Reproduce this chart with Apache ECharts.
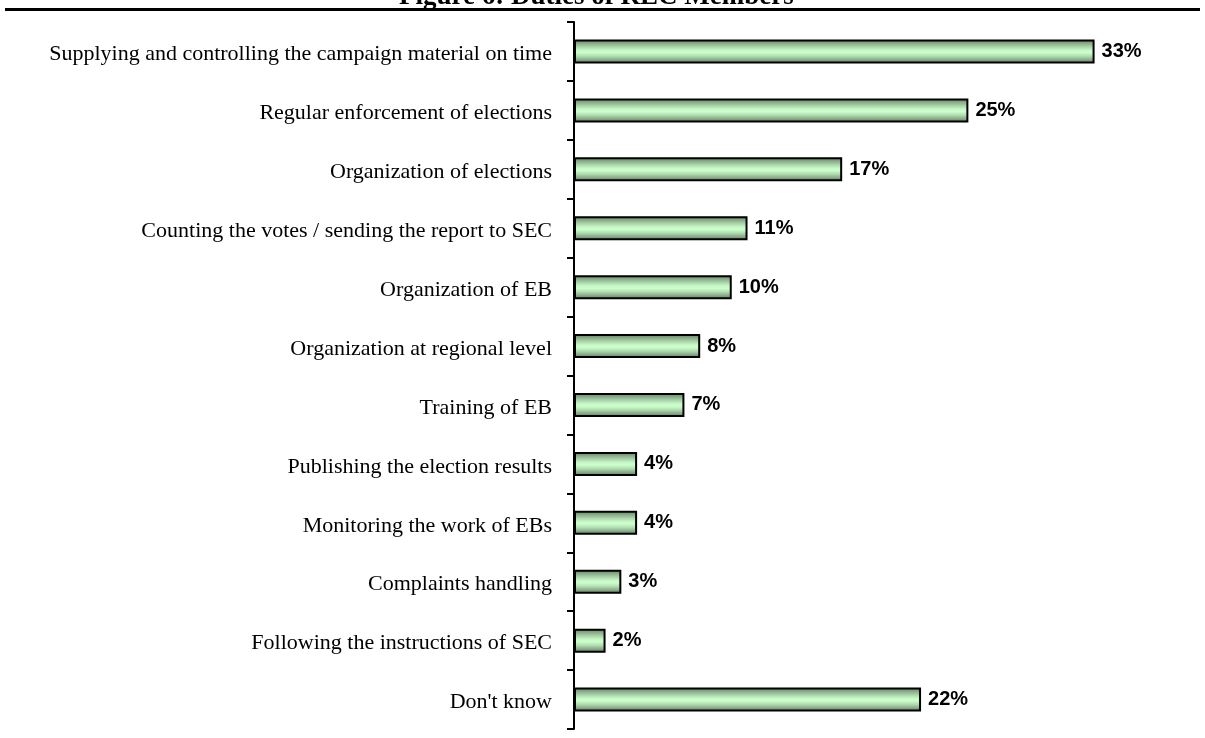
<!DOCTYPE html>
<html>
<head>
<meta charset="utf-8">
<script src="https://cdn.jsdelivr.net/npm/echarts@6/dist/echarts.min.js"></script>
<style>
  html, body { margin: 0; padding: 0; background: #fff; }
  #chart { width: 1205px; height: 738px; }
</style>
</head>
<body>
<div id="chart"></div>
<script>
// Duties named by REC members, share of respondents (%)
const categories = [
  'Supplying and controlling the campaign material on time',
  'Regular enforcement of elections',
  'Organization of elections',
  'Counting the votes / sending the report to SEC',
  'Organization of EB',
  'Organization at regional level',
  'Training of EB',
  'Publishing the election results',
  'Monitoring the work of EBs',
  'Complaints handling',
  'Following the instructions of SEC',
  "Don't know"
];
const shares = [33, 25, 17, 11, 10, 8, 7, 4, 4, 3, 2, 22];
const titleText = 'Figure 6: Duties of REC Members';

const chart = echarts.init(document.getElementById('chart'), null, { renderer: 'canvas' });

// Cylinder-like shading across the bar thickness
const barFill = new echarts.graphic.LinearGradient(0, 0, 0, 1, [
  { offset: 0.00, color: '#5f7d5f' },
  { offset: 0.15, color: '#86a886' },
  { offset: 0.30, color: '#a8d2a8' },
  { offset: 0.45, color: '#c8f8c8' },
  { offset: 0.55, color: '#ccffcc' },
  { offset: 0.70, color: '#b0dcb0' },
  { offset: 0.85, color: '#88aa88' },
  { offset: 1.00, color: '#5f7d5f' }
]);

chart.setOption({
  animation: false,
  backgroundColor: '#ffffff',
  title: {
    text: titleText,
    left: 394,
    top: -21,
    textStyle: {
      fontFamily: 'Liberation Serif',
      fontWeight: 'bold',
      fontSize: 27,
      color: '#000'
    }
  },
  graphic: [{
    type: 'line',
    shape: { x1: 5, y1: 9.5, x2: 1200, y2: 9.5 },
    style: { stroke: '#000', lineWidth: 3 }
  }],
  grid: { left: 574, top: 22, width: 631, height: 707, containLabel: false },
  xAxis: {
    type: 'value',
    min: 0,
    max: 40,
    show: false
  },
  yAxis: {
    type: 'category',
    data: categories,
    inverse: true,
    axisLine: { show: true, lineStyle: { color: '#000', width: 2 } },
    axisTick: { show: true, length: 7, lineStyle: { color: '#000', width: 2 } },
    axisLabel: {
      margin: 22,
      formatter: v => '{c|' + v + '}',
      rich: {
        c: {
          padding: [6, 0, 0, 0],
          fontFamily: 'Liberation Serif',
          fontSize: 22,
          color: '#000'
        }
      }
    },
    splitLine: { show: false }
  },
  series: [{
    type: 'bar',
    data: shares,
    barWidth: 24,
    itemStyle: {
      color: barFill,
      borderColor: '#000',
      borderWidth: 2
    },
    label: {
      show: true,
      position: 'right',
      distance: 7,
      formatter: p => p.value + '%',
      fontFamily: 'Liberation Sans',
      fontWeight: 'bold',
      fontSize: 20,
      color: '#000'
    }
  }]
});
</script>
</body>
</html>
